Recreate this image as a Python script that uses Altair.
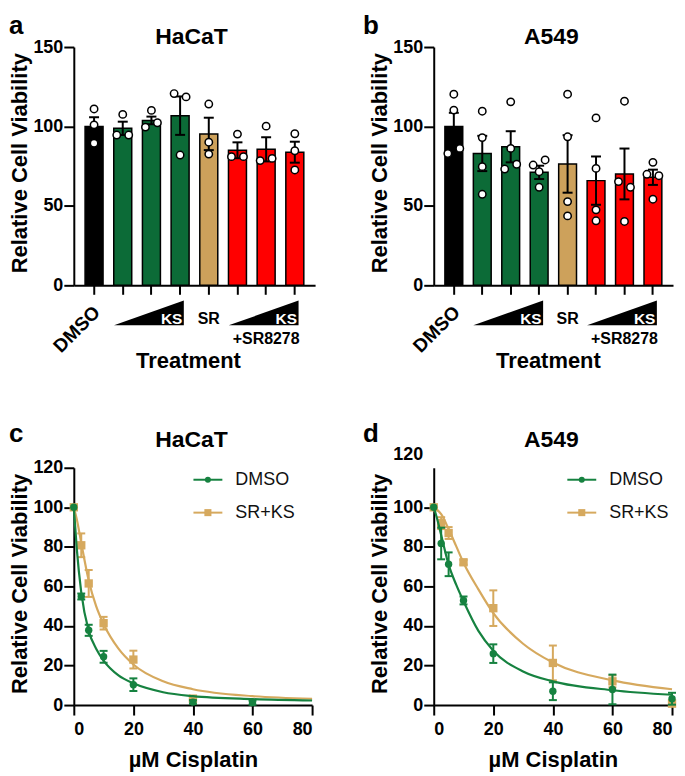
import altair as alt
import pandas as pd

FONT = "Liberation Sans"

# ---------------- data: bar panels (a: HaCaT, b: A549) ----------------
treatments = ["DMSO", "KS low", "KS mid", "KS high", "SR",
              "SR+KS low", "SR+KS mid", "SR+KS high"]
bar_colors = ["#000000", "#0c6b37", "#0c6b37", "#0c6b37", "#cda15b",
              "#ff0000", "#ff0000", "#ff0000"]

hacat_mean = [100.0, 98.8, 103.8, 106.8, 95.3, 85.0, 85.6, 83.8]
hacat_sem = [5.8, 4.2, 2.4, 12.1, 10.2, 5.0, 7.6, 6.6]
hacat_reps = [
    [111.0, 101.0, 89.4],
    [107.6, 94.6, 94.6],
    [110.1, 102.3, 99.6],
    [120.7, 118.6, 82.0],
    [114.1, 90.1, 82.6],
    [95.2, 81.0, 81.0],
    [100.2, 78.5, 79.9],
    [95.4, 84.7, 72.6],
]
hacat_side = [[0, 0, 0], [0, -1, 1], [0, 1, -1], [-1, 1, 0],
              [0, 0, 0], [0, -1, 1], [0, -1, 1], [0, 0, 0]]

a549_mean = [100.0, 83.0, 87.2, 71.1, 76.4, 65.9, 70.1, 68.0]
a549_sem = [8.6, 11.1, 9.8, 4.2, 18.1, 15.2, 16.0, 4.8]
a549_reps = [
    [120.3, 110.3, 83.0, 86.2],
    [109.6, 93.0, 74.7, 57.3],
    [115.5, 86.2, 73.2, 76.2],
    [75.7, 78.9, 71.5, 61.7],
    [120.3, 93.5, 52.7, 43.7],
    [105.4, 73.6, 47.5, 40.6],
    [115.9, 65.3, 61.7, 40.2],
    [77.4, 69.9, 69.0, 54.2],
]
a549_side = [[0, 0, -1, 1], [0, 0, 0, 0], [0, 0, -1, 1], [-1, 1, 0, 0],
             [0, 0, 0, 0], [0, 0, 0, 0], [0, -1, 1, 0], [0, -1, 1, 0]]

bar_ticks = [0, 50, 100, 150]
label_dmso = "DMSO"
label_ks = "KS"
label_sr = "SR"
label_sr8278 = "+SR8278"

# ---------------- data: dose-response panels (c: HaCaT, d: A549) ----------------
series = ["DMSO", "SR+KS"]
hacat_dose = [0, 2.5, 5, 10, 20, 40, 60]
hacat_dmso_mean = [100.0, 54.9, 37.8, 24.4, 10.3, 1.5, 1.2]
hacat_dmso_sem = [0.0, 1.5, 2.8, 3.0, 3.2, 1.0, 1.0]
hacat_srks_dose = [0, 2.5, 5, 10, 20, 40]
hacat_srks_mean = [100.0, 80.8, 61.5, 41.4, 23.0, 3.2]
hacat_srks_sem = [0.0, 6.0, 6.8, 3.2, 4.5, 1.5]

a549_dose = [0, 2.5, 5, 10, 20, 40, 60, 80]
a549_dmso_mean = [100.0, 81.7, 71.2, 52.9, 26.0, 7.0, 7.9, 3.2]
a549_dmso_sem = [0.0, 8.0, 6.0, 2.0, 4.7, 4.5, 7.5, 3.0]
a549_srks_mean = [100.0, 92.0, 87.0, 72.2, 49.0, 21.3, 12.0, 0.8]
a549_srks_sem = [0.0, 3.0, 3.0, 1.2, 9.0, 8.8, 3.0, 1.5]

curve_x = [0, 1, 2.5, 5, 7.5, 10, 15, 20, 30, 40, 60, 80]
hacat_dmso_curve = [100, 79, 57, 37.5, 28.5, 22.5, 15, 11, 6.5, 4.5, 3.0, 2.3]
hacat_srks_curve = [100, 94, 82, 63, 50, 41, 28.5, 20.5, 12, 8, 4.5, 3.2]
a549_dmso_curve = [100, 95, 86, 71, 61, 52.5, 37.5, 27.5, 17, 12, 7.5, 5.2]
a549_srks_curve = [100, 99, 96.5, 89, 80.5, 72, 58.5, 46.5, 31, 21.5, 12.5, 8]

dose_ticks = [0, 20, 40, 60, 80]
via_ticks = [0, 20, 40, 60, 80, 100, 120]

# ---------------- styles ----------------
GREEN_LINE = "#168240"
TAN_LINE = "#d6a95e"
series_colors = {"DMSO": GREEN_LINE, "SR+KS": TAN_LINE}
series_shapes = {"DMSO": "circle", "SR+KS": "square"}
WEDGE = "M -1 0.353 L 1 0.353 L 1 -0.353 Z"

H_TOP, H_BOT = 239, 238
LETTER_SIZE = 26


def text_mark(txt, x, y, size, weight="bold", color="black", align="left",
              baseline="alphabetic"):
    return alt.Chart(pd.DataFrame({"s": [txt]})).mark_text(
        font=FONT, fontSize=size, fontWeight=weight, color=color,
        align=align, baseline=baseline
    ).encode(x=alt.value(x), y=alt.value(y), text="s:N")


def bar_panel(mean, sem, reps, side, width, letter, title, letter_x):
    H = H_TOP
    xs = alt.Scale(domain=treatments, paddingInner=0.373, paddingOuter=0.393)
    xaxis = alt.Axis(labels=False, tickSize=9, title="Treatment",
                     titleX=114.5, titleY=82.7, titleBaseline="alphabetic",
                     titleAlign="center", titleFontSize=22)
    ys = alt.Scale(domain=[0, 150], nice=False)
    yaxis = alt.Axis(values=bar_ticks, tickSize=10, labelPadding=1,
                     title="Relative Cell Viability", titleAngle=270,
                     titleX=-47.6, titleY=116, titleBaseline="alphabetic",
                     titleAlign="center", titleFontSize=22)
    X = alt.X("t:N", scale=xs, axis=xaxis)

    bar_df = pd.DataFrame({
        "t": treatments, "m": mean,
        "lo": [m - s for m, s in zip(mean, sem)],
        "hi": [m + s for m, s in zip(mean, sem)],
    })
    bars = alt.Chart(bar_df).mark_bar(stroke="black", strokeWidth=1.5, opacity=1).encode(
        X, alt.Y("m:Q", scale=ys, axis=yaxis),
        fill=alt.Fill("t:N", scale=alt.Scale(domain=treatments, range=bar_colors), legend=None),
    )
    err = alt.Chart(bar_df).mark_rule(color="black", strokeWidth=2).encode(
        X, alt.Y("lo:Q", scale=ys, axis=yaxis), y2="hi:Q")
    cap_hi = alt.Chart(bar_df).mark_tick(orient="horizontal", size=10, thickness=2,
                                         color="black", opacity=1).encode(
        X, alt.Y("hi:Q", scale=ys, axis=yaxis))
    cap_lo = alt.Chart(bar_df).mark_tick(orient="horizontal", size=10, thickness=2,
                                         color="black", opacity=1).encode(
        X, alt.Y("lo:Q", scale=ys, axis=yaxis))

    rows = [(t, v, s) for t, vs, ss in zip(treatments, reps, side) for v, s in zip(vs, ss)]
    pts_df = pd.DataFrame(rows, columns=["t", "v", "side"])
    pts = []
    for s in (-1, 0, 1):
        pts.append(alt.Chart(pts_df).transform_filter(alt.datum.side == s).mark_circle(
            size=55, color="white", stroke="black", strokeWidth=1.5, opacity=1,
            xOffset=6 * s).encode(X, alt.Y("v:Q", scale=ys, axis=yaxis)))

    ks_df = pd.DataFrame({"t": [treatments[2], treatments[6]], "s": [label_ks, label_ks]})
    wedges = alt.Chart(ks_df).mark_point(shape=WEDGE, size=4900, filled=True, color="black",
                                         opacity=1, strokeWidth=0, xOffset=-2.5).encode(
        X, y=alt.value(H + 27.7))
    ks_txt = alt.Chart(ks_df).mark_text(font=FONT, fontSize=15.5, fontWeight="bold",
                                        color="white", align="right", baseline="alphabetic",
                                        dx=31).encode(X, y=alt.value(H + 39), text="s:N")
    sr_txt = alt.Chart(pd.DataFrame({"t": [treatments[4]], "s": [label_sr]})).mark_text(
        font=FONT, fontSize=16, fontWeight="bold", color="black", align="center",
        baseline="alphabetic").encode(X, y=alt.value(H + 39.3), text="s:N")
    sr8_txt = alt.Chart(pd.DataFrame({"t": [treatments[6]], "s": [label_sr8278]})).mark_text(
        font=FONT, fontSize=16, fontWeight="bold", color="black", align="center",
        baseline="alphabetic").encode(X, y=alt.value(H + 58.7), text="s:N")
    dmso_txt = alt.Chart(pd.DataFrame({"t": [treatments[0]], "s": [label_dmso]})).mark_text(
        font=FONT, fontSize=19, fontWeight="bold", color="black", align="right",
        baseline="middle", angle=315, xOffset=3).encode(X, y=alt.value(H + 24), text="s:N")

    layers = [bars, err, cap_hi, cap_lo] + pts + [
        wedges, ks_txt, sr_txt, sr8_txt, dmso_txt,
        text_mark(letter, letter_x, -13.3, LETTER_SIZE),
        text_mark(title, 118, -3.5, 23, align="center"),
    ]
    return alt.layer(*layers).properties(width=width, height=H)


def curve_panel(doses, means, sems, curves, width, letter, title, letter_x, leg_x, top_label_up):
    H = H_BOT
    xs = alt.Scale(domain=[0, 80], nice=False)
    ys = alt.Scale(domain=[0, 120], nice=False)
    xaxis = alt.Axis(values=dose_ticks, tickSize=10, labelPadding=5.5,
                     title="\u00b5M Cisplatin", titleX=119.5, titleY=62,
                     titleBaseline="alphabetic", titleAlign="center", titleFontSize=22)
    ykw = dict(values=via_ticks, tickSize=10, labelPadding=1,
               title="Relative Cell Viability", titleAngle=270,
               titleX=-47.6, titleY=116, titleBaseline="alphabetic",
               titleAlign="center", titleFontSize=22)
    if top_label_up:
        ykw["labelOffset"] = {"condition": {"test": "datum.value == 120", "value": -13}, "value": 0}
        ykw["tickOpacity"] = {"condition": {"test": "datum.value == 120", "value": 0}, "value": 1}
    yaxis = alt.Axis(**ykw)
    X = alt.X("x:Q", scale=xs, axis=xaxis)

    layers = []
    for name in ["SR+KS", "DMSO"]:
        col = series_colors[name]
        cdf = pd.DataFrame({"x": curve_x, "y": curves[name]})
        layers.append(alt.Chart(cdf).mark_line(color=col, strokeWidth=2.2,
                                               interpolate="monotone").encode(
            X, alt.Y("y:Q", scale=ys, axis=yaxis)))
        d = doses[name]
        m = means[name]
        s = sems[name]
        pdf = pd.DataFrame({"x": d, "y": m,
                            "lo": [a - b for a, b in zip(m, s)],
                            "hi": [a + b for a, b in zip(m, s)],
                            "e": s})
        edf = pdf[pdf.e > 0]
        layers.append(alt.Chart(edf).mark_rule(color=col, strokeWidth=2).encode(
            X, alt.Y("lo:Q", scale=ys, axis=yaxis), y2="hi:Q"))
        for fld in ("lo", "hi"):
            layers.append(alt.Chart(edf).mark_tick(orient="horizontal", size=8, thickness=2,
                                                   color=col, opacity=1).encode(
                X, alt.Y(f"{fld}:Q", scale=ys, axis=yaxis)))
        layers.append(alt.Chart(pdf).mark_point(shape=series_shapes[name], filled=True,
                                                color=col, opacity=1,
                                                size=55 if name == "DMSO" else 70).encode(
            X, alt.Y("y:Q", scale=ys, axis=yaxis)))

    one = pd.DataFrame({"k": [0]})
    for name, ly in (("DMSO", 12), ("SR+KS", 45)):
        col = series_colors[name]
        layers.append(alt.Chart(one).mark_rule(color=col, strokeWidth=2).encode(
            x=alt.value(leg_x), x2=alt.value(leg_x + 29), y=alt.value(ly)))
        layers.append(alt.Chart(one).mark_point(shape=series_shapes[name], filled=True,
                                                color=col, opacity=1,
                                                size=36 if name == "DMSO" else 50).encode(
            x=alt.value(leg_x + 14.5), y=alt.value(ly)))
        layers.append(text_mark(name, leg_x + 42, ly, 18, weight="normal",
                                color="#111111", baseline="middle"))

    layers.append(text_mark(letter, letter_x, -26, LETTER_SIZE))
    layers.append(text_mark(title, 118, -21, 23, align="center"))
    return alt.layer(*layers).properties(width=width, height=H)


pa = bar_panel(hacat_mean, hacat_sem, hacat_reps, hacat_side, 242, "a", "HaCaT", -65)
pb = bar_panel(a549_mean, a549_sem, a549_reps, a549_side, 240, "b", "A549", -71)
pc = curve_panel(
    {"DMSO": hacat_dose, "SR+KS": hacat_srks_dose},
    {"DMSO": hacat_dmso_mean, "SR+KS": hacat_srks_mean},
    {"DMSO": hacat_dmso_sem, "SR+KS": hacat_srks_sem},
    {"DMSO": hacat_dmso_curve, "SR+KS": hacat_srks_curve},
    239, "c", "HaCaT", -65, 120, False)
pd_ = curve_panel(
    {"DMSO": a549_dose, "SR+KS": a549_dose},
    {"DMSO": a549_dmso_mean, "SR+KS": a549_srks_mean},
    {"DMSO": a549_dmso_sem, "SR+KS": a549_srks_sem},
    {"DMSO": a549_dmso_curve, "SR+KS": a549_srks_curve},
    239, "d", "A549", -71, 134, True)

chart = alt.concat(
    pa, pb, pc, pd_, columns=2,
    spacing={"row": 183, "column": 119}, bounds="flush", align="all",
).properties(padding={"top": 3, "left": 0, "right": 0, "bottom": 0}).configure_view(
    stroke=None
).configure_axis(
    grid=False, domainColor="black", domainWidth=2, tickColor="black", tickWidth=2,
    labelColor="black", titleColor="black", labelFont=FONT, titleFont=FONT,
    labelFontWeight="bold", titleFontWeight="bold", labelFontSize=18,
)

chart.save("out.html", embed_options={"renderer": "svg", "actions": False})
